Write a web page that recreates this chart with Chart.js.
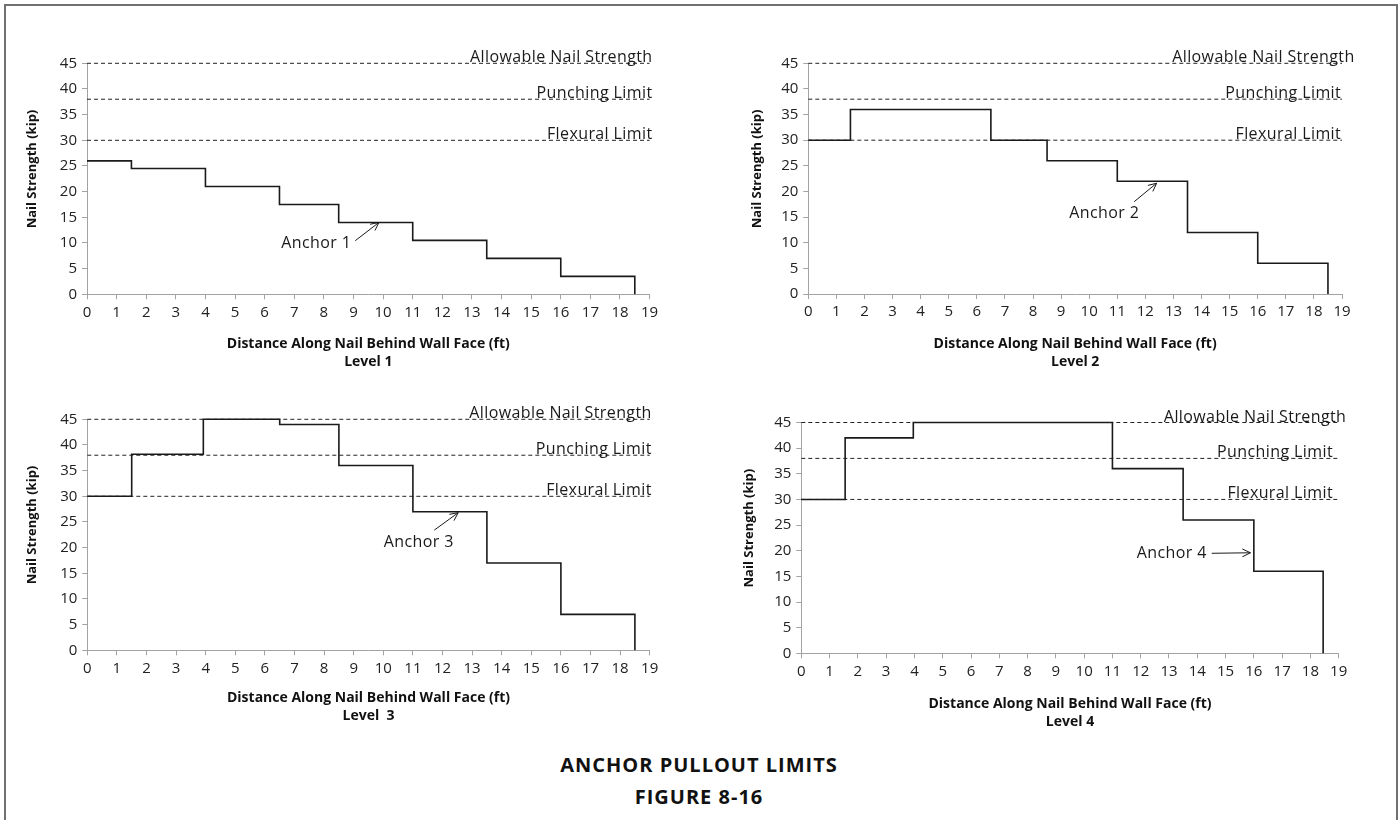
<!DOCTYPE html>
<html>
<head>
<meta charset="utf-8">
<title>Anchor Pullout Limits</title>
<script src="https://cdn.jsdelivr.net/npm/chart.js@4.4.1/dist/chart.umd.min.js"></script>
<style>
  body { margin: 0; background: #fff; width: 1398px; height: 820px; overflow: hidden; position: relative; font-family: "Open Sans", sans-serif; }
  .frame { position: absolute; left: 4px; top: 4px; width: 1390px; height: 830px; border: 2px solid #707070; }
  canvas { position: absolute; }
  .caption { position: absolute; left: 0; width: 1398px; text-align: center; font-weight: bold; font-size: 20px; letter-spacing: 1px; line-height: 26px; color: #111; }
</style>
</head>
<body>
<div class="frame"></div>
<canvas id="level1" width="690" height="350" style="left:0px;top:30px"></canvas>
<canvas id="level2" width="690" height="350" style="left:700px;top:30px"></canvas>
<canvas id="level3" width="690" height="340" style="left:0px;top:390px"></canvas>
<canvas id="level4" width="690" height="350" style="left:700px;top:390px"></canvas>
<div class="caption" style="top:752px">ANCHOR PULLOUT LIMITS</div>
<div class="caption" style="top:784px">FIGURE 8-16</div>

<script>
// Tick values
const distanceTicks = [0, 1, 2, 3, 4, 5, 6, 7, 8, 9, 10, 11, 12, 13, 14, 15, 16, 17, 18, 19];
const strengthTicks = [0, 5, 10, 15, 20, 25, 30, 35, 40, 45];

// Limit lines (kip)
const limitValues = [45, 38, 30];
const limitNames = ["Allowable Nail Strength", "Punching Limit", "Flexural Limit"];

// Step profiles: distance behind wall face (ft) -> nail strength (kip)
// each value holds from its distance up to the next one
const level1Dist = [0, 1.5, 4, 6.5, 8.5, 11, 13.5, 16, 18.5, 18.5];
const level1Strength = [26, 24.5, 21, 17.5, 14, 10.5, 7, 3.5, 3.5, 0];

const level2Dist = [0, 1.5, 6.5, 8.5, 11, 13.5, 16, 18.5, 18.5];
const level2Strength = [30, 36, 30, 26, 22, 12, 6, 6, 0];

const level3Dist = [0, 1.5, 3.92, 6.5, 8.5, 11, 13.5, 16, 18.5, 18.5];
const level3Strength = [30, 38.2, 45, 44, 36, 27, 17, 7, 7, 0];

const level4Dist = [0, 1.55, 3.96, 11, 13.5, 16, 18.45, 18.45];
const level4Strength = [30, 42, 45, 36, 26, 16, 16, 0];

const anchorNames = ["Anchor 1", "Anchor 2", "Anchor 3", "Anchor 4"];
const levelNames = ["Level 1", "Level 2", "Level  3", "Level 4"];

// leading en-spaces nudge the rotated y title a little upward, as in the original
const yTitle = "\u2002\u2002\u2002Nail Strength (kip)";

// Text + arrow drawn in data units on each chart
const notesPlugin = {
  id: "pulloutNotes",
  afterDatasetsDraw(chart, args, opts) {
    const { ctx, scales: { x, y } } = chart;
    ctx.save();
    ctx.fillStyle = "#1a1a1a";
    ctx.font = '16px "Open Sans"';
    ctx.letterSpacing = "0.4px";

    // limit labels sit on their dashed line, right aligned
    ctx.textAlign = "right";
    ctx.textBaseline = "alphabetic";
    limitValues.forEach((v, i) => {
      ctx.fillText(limitNames[i], x.getPixelForValue(opts.labelEnd[i]), y.getPixelForValue(v) - 1);
    });

    // anchor label
    ctx.textAlign = "center";
    ctx.textBaseline = "middle";
    ctx.fillText(opts.anchor, x.getPixelForValue(opts.textAt[0]), y.getPixelForValue(opts.textAt[1]));

    // arrow
    const x1 = x.getPixelForValue(opts.arrowFrom[0]), y1 = y.getPixelForValue(opts.arrowFrom[1]);
    const x2 = x.getPixelForValue(opts.arrowTo[0]), y2 = y.getPixelForValue(opts.arrowTo[1]);
    const ang = Math.atan2(y2 - y1, x2 - x1);
    ctx.strokeStyle = "#1a1a1a";
    ctx.lineWidth = 1;
    ctx.beginPath();
    ctx.moveTo(x1, y1);
    ctx.lineTo(x2, y2);
    ctx.moveTo(x2 - 9 * Math.cos(ang - 0.45), y2 - 9 * Math.sin(ang - 0.45));
    ctx.lineTo(x2, y2);
    ctx.lineTo(x2 - 9 * Math.cos(ang + 0.45), y2 - 9 * Math.sin(ang + 0.45));
    ctx.stroke();
    ctx.restore();
  }
};

function makeChart(id, dist, strength, idx, box, notes) {
  const stepData = dist.map((d, i) => ({ x: d, y: strength[i] }));
  const limitSets = limitValues.map(v => ({
    data: [{ x: 0, y: v }, { x: 19, y: v }],
    borderColor: "#222",
    borderWidth: 1,
    borderDash: [4, 3],
    pointRadius: 0,
    clip: false
  }));

  return new Chart(document.getElementById(id), {
    type: "line",
    data: {
      datasets: [{
        data: stepData,
        stepped: "before",
        borderColor: "#1a1a1a",
        borderWidth: 1.6,
        pointRadius: 0,
        clip: false
      }, ...limitSets]
    },
    options: {
      responsive: false,
      animation: false,
      devicePixelRatio: 1,
      layout: { padding: { top: box.padTop, right: box.padRight, left: 0, bottom: 0 } },
      plugins: {
        legend: { display: false },
        tooltip: { enabled: false },
        pulloutNotes: notes
      },
      scales: {
        x: {
          type: "linear",
          min: 0,
          max: 19,
          afterBuildTicks: s => { s.ticks = distanceTicks.map(v => ({ value: v })); },
          afterFit: s => { s.height = box.xHeight; },
          ticks: { autoSkip: false, maxRotation: 0, padding: 4, color: "#222", font: { family: "Open Sans", size: 15 } },
          grid: { drawOnChartArea: false, tickLength: 5, color: "#a3a3a3" },
          border: { color: "#a3a3a3", width: 1 },
          title: {
            display: true,
            text: ["Distance Along Nail Behind Wall Face (ft)", levelNames[idx]],
            color: "#111",
            font: { family: "Open Sans", size: 14, weight: "bold", lineHeight: 1.3 },
            padding: { top: 0, bottom: box.xTitlePad }
          }
        },
        y: {
          min: 0,
          max: 45,
          afterBuildTicks: s => { s.ticks = strengthTicks.map(v => ({ value: v })); },
          afterFit: s => { s.width = box.yWidth; },
          ticks: { padding: 5, color: "#222", font: { family: "Open Sans", size: 15 } },
          grid: { drawOnChartArea: false, tickLength: 5, color: "#a3a3a3" },
          border: { color: "#a3a3a3", width: 1 },
          title: {
            display: true,
            text: yTitle,
            color: "#111",
            font: { family: "Open Sans", size: 13, weight: "bold", lineHeight: 1.2 },
            padding: { top: box.yTitlePad, bottom: 0 }
          }
        }
      }
    },
    plugins: [notesPlugin]
  });
}

makeChart("level1", level1Dist, level1Strength, 0,
  { padTop: 33.3, padRight: 40.4, xHeight: 85.7, yWidth: 87, yTitlePad: 24.7, xTitlePad: 8.9 },
  { anchor: anchorNames[0], labelEnd: [19.1, 19.1, 19.1], textAt: [7.74, 10.0], arrowFrom: [9.06, 10.45], arrowTo: [9.86, 14.0] });

makeChart("level2", level2Dist, level2Strength, 1,
  { padTop: 33.3, padRight: 48, xHeight: 86, yWidth: 108.3, yTitlePad: 49.5, xTitlePad: 8.9 },
  { anchor: anchorNames[1], labelEnd: [19.45, 18.97, 18.97], textAt: [10.54, 15.7], arrowFrom: [11.6, 18.0], arrowTo: [12.4, 21.6] });

makeChart("level3", level3Dist, level3Strength, 2,
  { padTop: 29.3, padRight: 40.3, xHeight: 79.7, yWidth: 87.3, yTitlePad: 24.9, xTitlePad: 4.9 },
  { anchor: anchorNames[2], labelEnd: [19.07, 19.07, 19.07], textAt: [11.2, 21.0], arrowFrom: [11.72, 23.4], arrowTo: [12.53, 26.8] });

makeChart("level4", level4Dist, level4Strength, 3,
  { padTop: 32.5, padRight: 51.3, xHeight: 86.7, yWidth: 101.3, yTitlePad: 41.5, xTitlePad: 8.9 },
  { anchor: anchorNames[3], labelEnd: [19.27, 18.8, 18.8], textAt: [13.1, 19.4], arrowFrom: [14.51, 19.5], arrowTo: [15.88, 19.6] });
</script>
</body>
</html>
